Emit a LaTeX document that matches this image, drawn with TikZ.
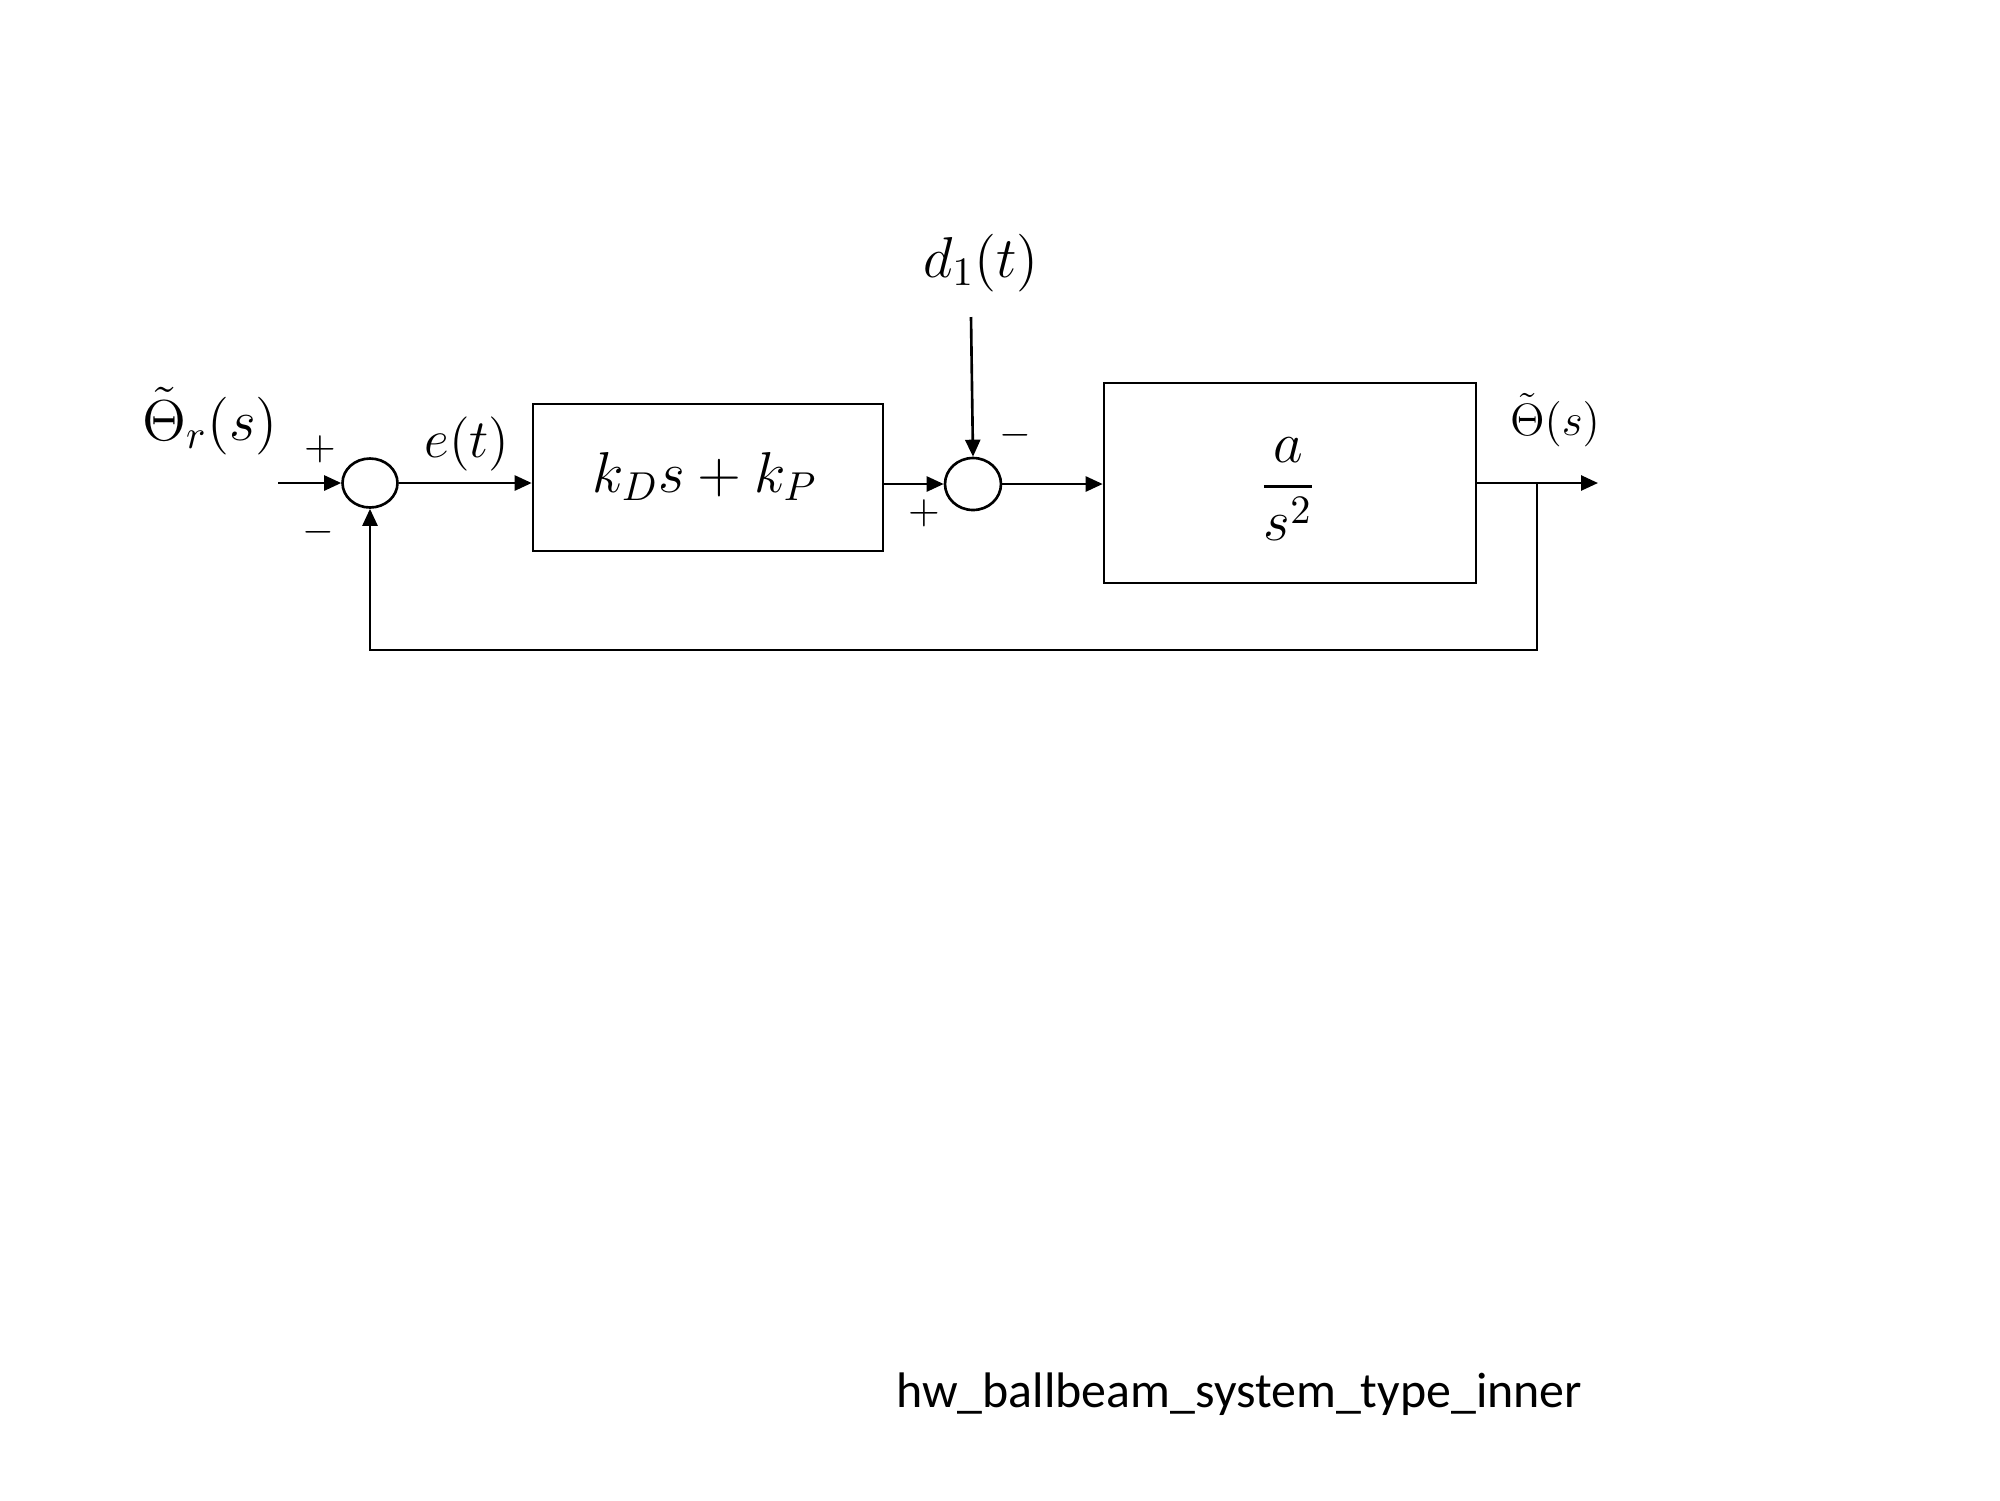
\RequirePackage{fix-cm}
\documentclass[tikz,border=0pt]{standalone}
\usepackage{amsmath}
\usepackage{fontspec}
\newfontfamily\captionfont{Carlito}
\usetikzlibrary{shapes.geometric,arrows.meta}

\tikzset{
  every path/.style={line width=0.75pt},
  sumnode/.style={draw, ellipse, inner sep=0pt},
  blocknode/.style={draw, rectangle, inner sep=0pt},
  sig/.style={-{Triangle[length=0.17cm,width=0.15cm]}},
  mathbig/.style={font=\fontsize{16.4}{19}\selectfont, inner sep=0pt, anchor=base},
  mathmid/.style={font=\fontsize{15.4}{18}\selectfont, inner sep=0pt, anchor=base},
  mathsmall/.style={font=\fontsize{12.9}{15}\selectfont, inner sep=0pt, anchor=base},
  signlabel/.style={font=\fontsize{11.6}{13}\selectfont, inner sep=0pt, anchor=center},
  captionlabel/.style={font=\captionfont\fontsize{14.2}{17}\selectfont, inner sep=0pt, anchor=base west}
}

\begin{document}
\begin{tikzpicture}
  \useasboundingbox (0,0) rectangle (20,-15);

  % summing junctions and blocks
  \node[sumnode, minimum width=0.55cm, minimum height=0.49cm] (sum1) at (3.70,-4.83) {};
  \node[blocknode, minimum width=3.50cm, minimum height=1.47cm] (ctrl) at (7.08,-4.775) {};
  \node[sumnode, minimum width=0.56cm, minimum height=0.52cm] (sum2) at (9.73,-4.84) {};
  \node[blocknode, minimum width=3.72cm, minimum height=2.00cm] (plant) at (12.90,-4.83) {};

  % block contents
  \node[mathbig] (ctrltext) at (7.05,-4.92) {$k_D s + k_P$};
  \node[mathbig] (planttext) at (12.88,-5.01) {$\dfrac{a}{s^2}$};

  % signal labels
  \node[mathbig] (reflabel) at (2.10,-4.40) {$\tilde{\Theta}_r(s)$};
  \node[mathmid] (errlabel) at (4.67,-4.57) {$e(t)$};
  \node[mathbig] (distlabel) at (9.81,-2.77) {$d_1(t)$};
  \node[mathsmall] (outlabel) at (15.55,-4.35) {$\tilde{\Theta}(s)$};

  % junction signs
  \node[signlabel] (p1) at (3.20,-4.49) {$+$};
  \node[signlabel] (m1) at (3.18,-5.32) {$-$};
  \node[signlabel] (p2) at (9.24,-5.13) {$+$};
  \node[signlabel] (m2) at (10.15,-4.35) {$-$};

  % free ends
  \coordinate (refin) at (2.78,-4.83);
  \coordinate (distin) at (9.71,-3.17);
  \coordinate (branch) at (15.37,-4.83);
  \coordinate (outend) at (15.98,-4.83);
  \coordinate (fbright) at (15.37,-6.50);
  \coordinate (fbleft) at (3.70,-6.50);

  % forward path
  \draw[sig] (refin) -- (sum1.west);
  \draw[sig] (sum1.east) -- (sum1.east -| ctrl.west);
  \draw[sig] (sum2.west -| ctrl.east) -- (sum2.west);
  \draw[sig] (distin) -- (sum2.north);
  \draw[sig] (sum2.east) -- (sum2.east -| plant.west);
  \draw[sig] (plant.east) -- (outend);

  % feedback path
  \draw[sig] (branch) -- (fbright) -- (fbleft) -- (sum1.south);

  % caption
  \node[captionlabel] (caption) at (8.95,-14.07) {hw\_ballbeam\_system\_type\_inner};
\end{tikzpicture}
\end{document}
